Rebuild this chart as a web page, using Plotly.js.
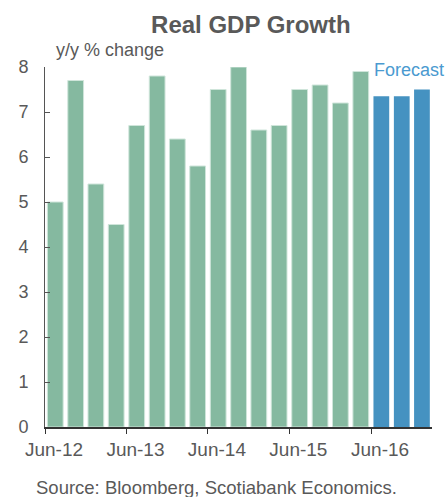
<!DOCTYPE html>
<html>
<head>
<meta charset="utf-8">
<script src="https://cdn.plot.ly/plotly-3.0.1.min.js"></script>
<style>html,body{margin:0;padding:0;background:#fff;}#chart{width:448px;height:497px;}</style>
</head>
<body>
<div id="chart"></div>
<script>
// Quarterly periods (start dates), actual and forecast
const actualQuarters = ['2012-06-01','2012-09-01','2012-12-01','2013-03-01','2013-06-01','2013-09-01','2013-12-01','2014-03-01','2014-06-01','2014-09-01','2014-12-01','2015-03-01','2015-06-01','2015-09-01','2015-12-01','2016-03-01'];
const actualGrowth = [5.0, 7.7, 5.4, 4.5, 6.7, 7.8, 6.4, 5.8, 7.5, 8.0, 6.6, 6.7, 7.5, 7.6, 7.2, 7.9];
const forecastQuarters = ['2016-06-01','2016-09-01','2016-12-01'];
const forecastGrowth = [7.35, 7.35, 7.5];
const xTickVals = ['2012-06-01','2013-06-01','2014-06-01','2015-06-01','2016-06-01'];
const xTickText = ['Jun-12','Jun-13','Jun-14','Jun-15','Jun-16'];
const yTickVals = [0,1,2,3,4,5,6,7,8];

const font = 'Liberation Sans, Arial, sans-serif';
const grey = '#595959';

const traces = [
  {type:'bar', x: actualQuarters, y: actualGrowth, xperiod:'M3', xperiod0:'2012-06-01', xperiodalignment:'middle',
   marker:{color:'#85B9A0', line:{color:'#CFE5DA', width:1}}, hoverinfo:'x+y'},
  {type:'bar', x: forecastQuarters, y: forecastGrowth, xperiod:'M3', xperiod0:'2012-06-01', xperiodalignment:'middle',
   marker:{color:'#4592C1', line:{width:0}}, hoverinfo:'x+y'}
];

const layout = {
  width:448, height:497,
  margin:{l:45, r:16, t:67, b:70},
  paper_bgcolor:'#fff', plot_bgcolor:'#fff',
  showlegend:false,
  bargap:0.22,
  barmode:'overlay',
  font:{family:font, color:grey, size:18},
  title:{text:'<b>Real GDP Growth</b>', x:0.56, xanchor:'center', y:0.95, yanchor:'middle',
         font:{family:font, size:24, color:grey}},
  xaxis:{type:'date', range:['2012-06-01','2017-03-01'], tickvals:xTickVals, ticktext:xTickText,
         showgrid:false, zeroline:false, showline:true, linecolor:'#333', linewidth:1.5,
         ticks:'outside', ticklen:5, tickcolor:'#333', ticklabelshift:9,
         tickfont:{size:19, color:grey}},
  yaxis:{range:[0,8], tickvals:yTickVals, showgrid:false, zeroline:false, showline:true,
         linecolor:'#555', linewidth:1, ticks:'inside', ticklen:5, tickcolor:'#555',
         ticklabelstandoff:12, tickfont:{size:18, color:grey}},
  annotations:[
    {text:'y/y % change', xref:'paper', yref:'paper', x:0.023, y:1.048, xanchor:'left', yanchor:'middle',
     showarrow:false, font:{size:18, color:grey}},
    {text:'Forecast', xref:'paper', yref:'paper', x:1.036, y:0.992, xanchor:'right', yanchor:'middle',
     showarrow:false, font:{size:18, color:'#4A9AD0'}},
    {text:'Source: Bloomberg, Scotiabank Economics.', xref:'paper', yref:'paper', x:0.444, y:-0.167,
     xanchor:'center', yanchor:'middle', showarrow:false, font:{size:18.5, color:grey}}
  ]
};

Plotly.newPlot('chart', traces, layout, {displayModeBar:false, staticPlot:true});
</script>
</body>
</html>
